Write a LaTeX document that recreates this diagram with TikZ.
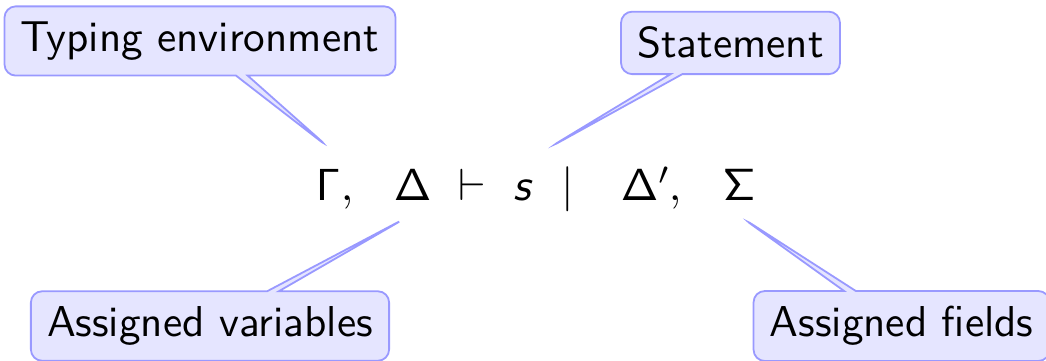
\documentclass[tikz,border=0pt]{standalone}
\usepackage{amsmath}
\usepackage{tikz}
\usetikzlibrary{shapes.callouts,positioning,calc}
\tikzset{
  note/.style={
    rectangle callout,
    rounded corners=2.5pt,
    draw=blue!40,
    fill=blue!10,
    inner xsep=3.6pt,
    inner ysep=3.4pt,
    callout pointer width=2.6pt,
    font=\sffamily\fontsize{9.6}{11.5}\selectfont
  },
  sym/.style={
    inner sep=0pt,
    anchor=base west
  }
}

\begin{document}
\begin{tikzpicture}
\useasboundingbox (0,0) rectangle (8.169,2.819);
% the judgement
\node[sym] (gam) at (2.460,1.25) {$\mathsf{\Gamma}$};
\node[sym] (c1) at (2.655,1.25) {$,$};
\node[sym] (dlt) at (3.069,1.25) {$\mathsf{\Delta}$};
\node[sym] (vd) at (3.577,1.25) {$\vdash$};
\node[sym] (s) at (4.006,1.25) {\sffamily\slshape s};
\node[sym, anchor=base] (bar) at (4.436,1.25) {$\mid$};
\node[sym] (dlt2) at (4.842,1.25) {$\mathsf{\Delta}'$};
\node[sym] (c2) at (5.217,1.25) {$,$};
\node[sym] (sig) at (5.639,1.25) {$\mathsf{\Sigma}$};
% pointer tips
\coordinate (typtip) at ($(gam.north)+(0,0.17)$);
\coordinate (stmttip) at ($(s.north east)+(0.14,0.25)$);
\coordinate (asgvtip) at ($(dlt.south)+(-0.06,-0.13)$);
\coordinate (asgftip) at ($(sig.south)+(0.03,-0.13)$);
% callouts
\node[note, callout absolute pointer=(typtip)] (typ) at (1.562,2.499) {Typing environment};
\node[note, callout absolute pointer=(stmttip)] (stmt) at (5.705,2.484) {Statement};
\node[note, callout absolute pointer=(asgvtip)] (asgv) at (1.640,0.273) {Assigned variables};
\node[note, callout absolute pointer=(asgftip)] (asgf) at (7.041,0.273) {Assigned fields};
\end{tikzpicture}
\end{document}
